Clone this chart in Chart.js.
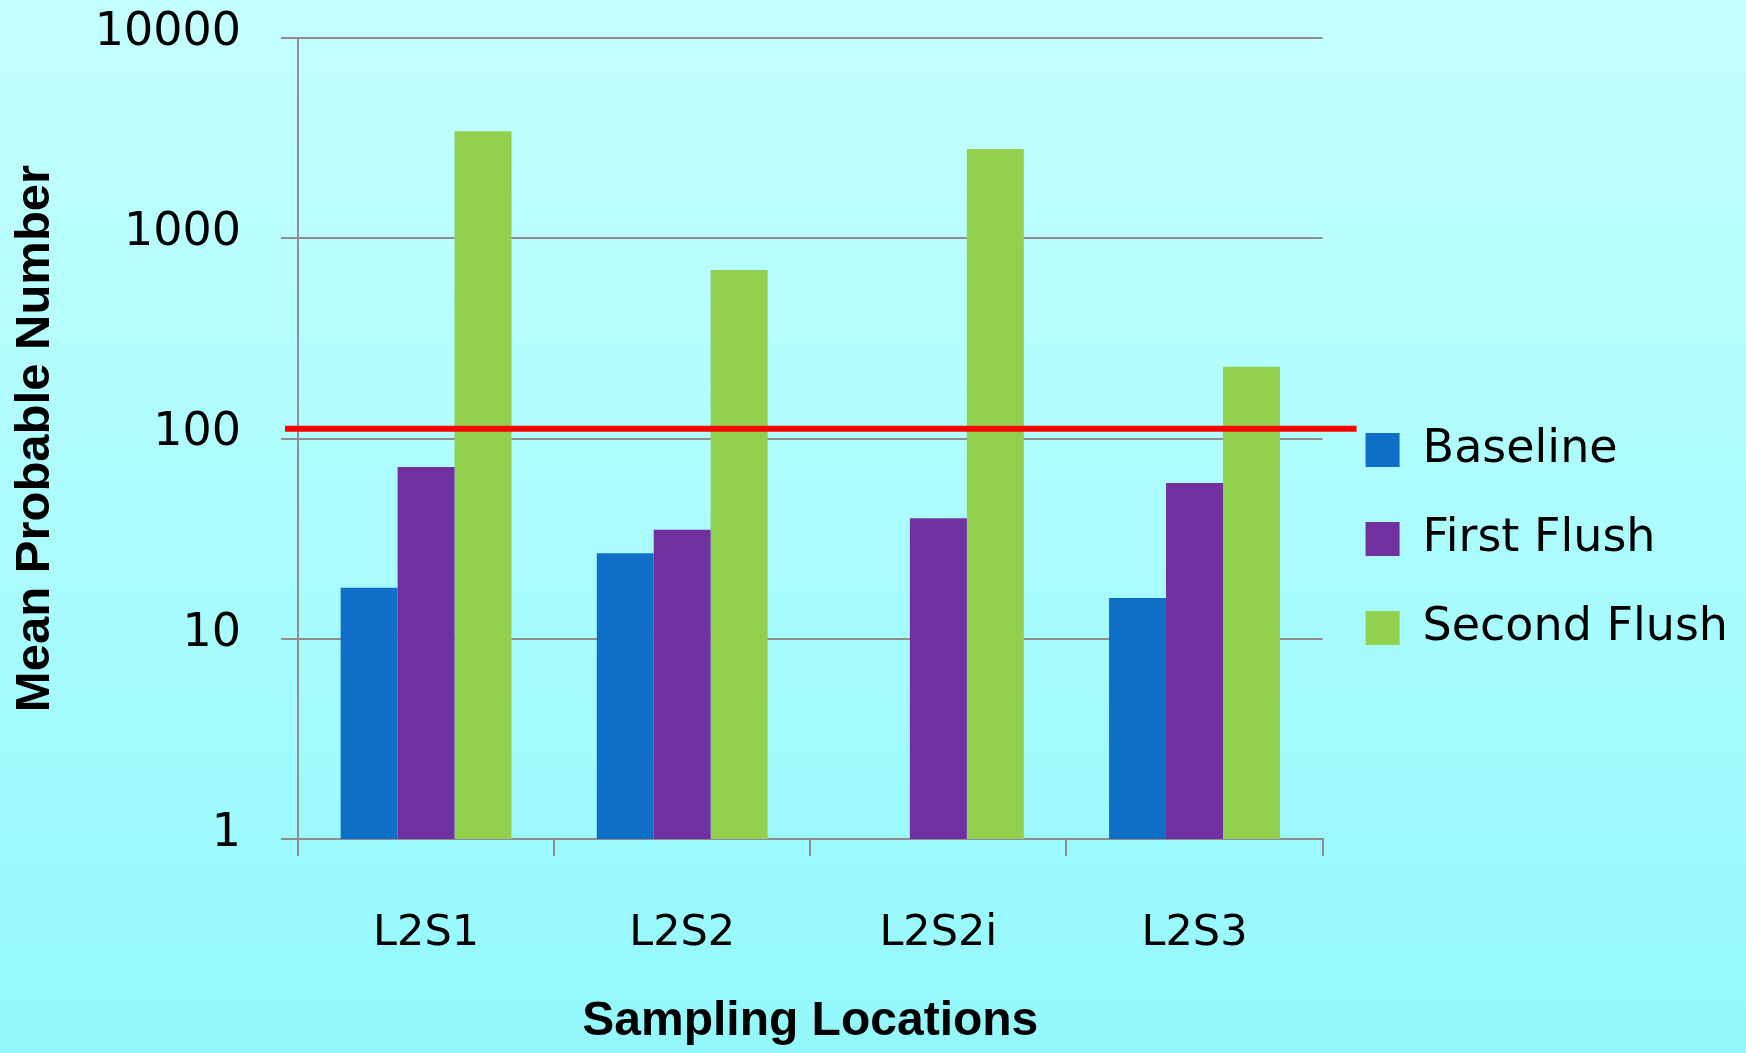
<!DOCTYPE html>
<html><head><meta charset="utf-8">
<script src="https://cdn.jsdelivr.net/npm/chart.js@4.4.1/dist/chart.umd.min.js"></script>
<style>
html,body{margin:0;padding:0;width:1746px;height:1053px;overflow:hidden;background:linear-gradient(to bottom,#c4ffff 0%,#93f8fb 100%);}
canvas{display:block;}
</style></head><body>
<canvas id="c" width="1746" height="1053"></canvas>
<script>
const categories = ['L2S1', 'L2S2', 'L2S2i', 'L2S3'];
const seriesNames = ['Baseline', 'First Flush', 'Second Flush'];
const baseline = [18, 26.7, null, 16];
const firstFlush = [72, 35, 40, 60];
const secondFlush = [3420, 695, 2790, 228];
const yTicks = [1, 10, 100, 1000, 10000];
const thresholdValue = 112;
const xTitle = 'Sampling Locations';
const yTitle = 'Mean Probable Number';

const colors = ['#0f6fc6', '#7030a0', '#92d050'];
const gridColor = '#8e8e8e';

const thresholdPlugin = {
  id: 'threshold',
  afterDatasetsDraw(chart) {
    const {ctx, chartArea, scales} = chart;
    const py = scales.y.getPixelForValue(thresholdValue);
    ctx.save();
    ctx.strokeStyle = '#ff0000';
    ctx.lineWidth = 6;
    ctx.beginPath();
    ctx.moveTo(chartArea.left - 13, py);
    ctx.lineTo(chartArea.right + 34, py);
    ctx.stroke();
    ctx.restore();
  }
};

Chart.defaults.color = '#000';
new Chart(document.getElementById('c'), {
  type: 'bar',
  data: {
    labels: categories,
    datasets: [
      {label: seriesNames[0], data: baseline, backgroundColor: colors[0], borderWidth: 0},
      {label: seriesNames[1], data: firstFlush, backgroundColor: colors[1], borderWidth: 0},
      {label: seriesNames[2], data: secondFlush, backgroundColor: colors[2], borderWidth: 0}
    ]
  },
  options: {
    responsive: false,
    animation: false,
    devicePixelRatio: 1,
    categoryPercentage: 0.667,
    barPercentage: 1.0,
    layout: {padding: {top: 38, bottom: 13, left: 0, right: 8}},
    plugins: {
      legend: {
        position: 'right',
        align: 'center',
        labels: {
          font: {family: 'DejaVu Sans', size: 46},
          color: '#000',
          boxWidth: 34,
          boxHeight: 34,
          padding: 43
        }
      },
      tooltip: {enabled: false}
    },
    scales: {
      x: {
        afterFit: (s) => { s.height = 201; s.paddingLeft = 0; s.paddingRight = 0; },
        grid: {display: true, drawOnChartArea: false, drawTicks: true, tickLength: 17, color: gridColor, lineWidth: 2},
        border: {display: true, color: gridColor, width: 2},
        ticks: {font: {family: 'DejaVu Sans', size: 43}, color: '#000', padding: 52, maxRotation: 0, autoSkip: false},
        title: {display: true, text: xTitle, color: '#000',
          font: {family: 'Liberation Sans', size: 48, weight: 'bold', lineHeight: 1},
          padding: {top: 42, bottom: -6}}
      },
      y: {
        type: 'logarithmic',
        min: 1,
        max: 10000,
        afterBuildTicks: (scale) => { scale.ticks = yTicks.map(v => ({value: v})); },
        afterFit: (s) => { s.width = 298; s.paddingTop = 0; s.paddingBottom = 0; },
        grid: {color: gridColor, lineWidth: 2, tickLength: 17, drawTicks: true},
        border: {display: true, color: gridColor, width: 2},
        ticks: {font: {family: 'DejaVu Sans', size: 46}, color: '#000', padding: 40, labelOffset: -5,
          callback: (v) => String(v)},
        title: {display: true, text: yTitle, color: '#000',
          font: {family: 'Liberation Sans', size: 49, weight: 'bold', lineHeight: 1},
          padding: {top: 11, bottom: 0}}
      }
    }
  },
  plugins: [thresholdPlugin]
});
</script>
</body></html>
